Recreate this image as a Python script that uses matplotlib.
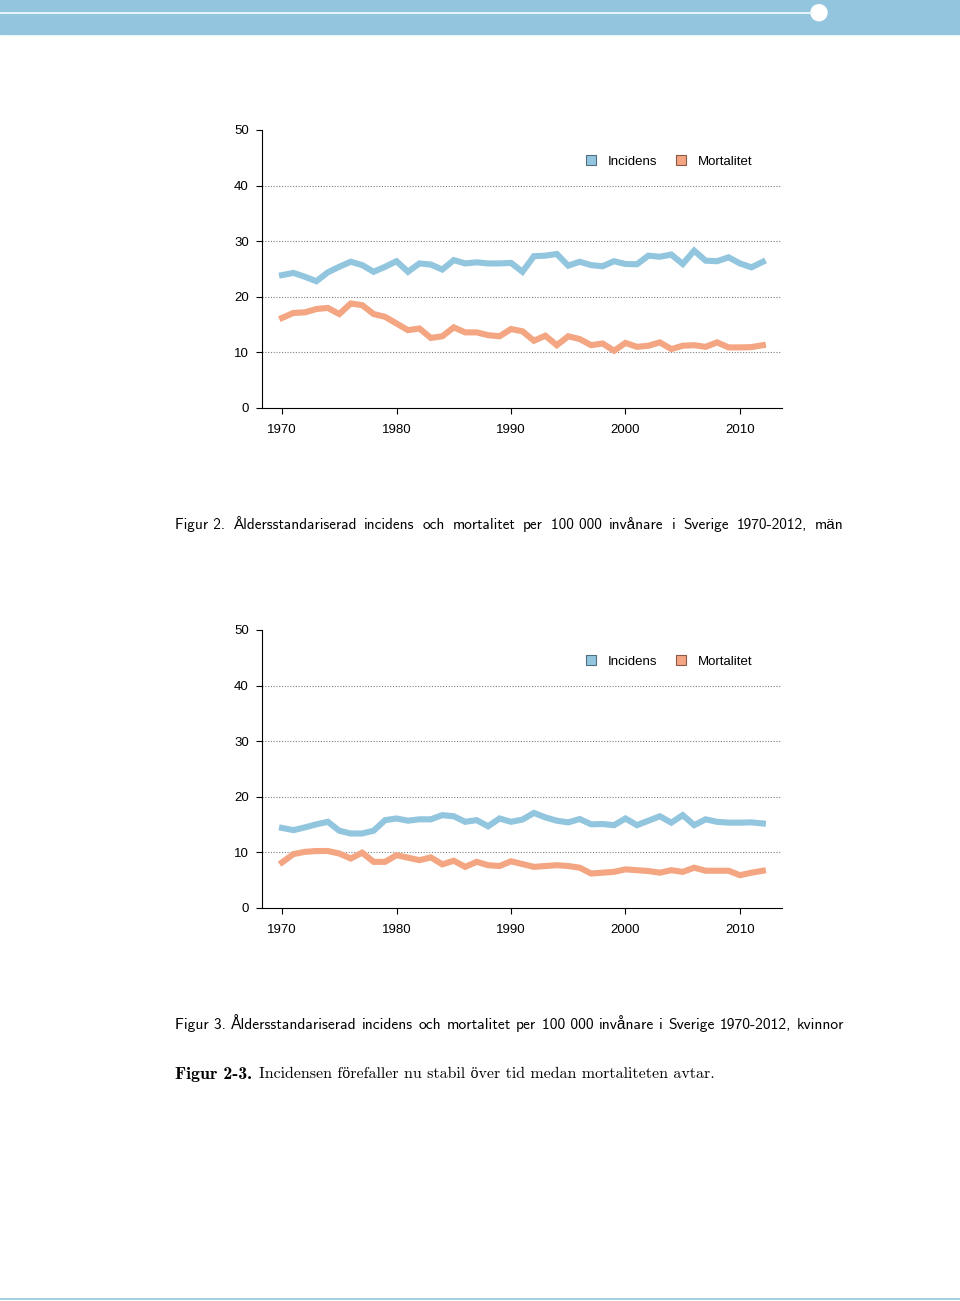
import matplotlib
matplotlib.use("Agg")
import matplotlib.pyplot as plt
from matplotlib.patches import Patch, Rectangle, Ellipse
from matplotlib.lines import Line2D

years = list(range(1970, 2013))

# Figur 2, män
men_incidens = [23.9, 24.3, 23.6, 22.8, 24.4, 25.4, 26.3, 25.7, 24.5, 25.4,
                26.4, 24.5, 26.0, 25.8, 24.9, 26.6, 26.0, 26.2, 26.0, 26.0,
                26.1, 24.5, 27.3, 27.4, 27.7, 25.6, 26.3, 25.7, 25.5, 26.4,
                25.9, 25.85, 27.4, 27.2, 27.6, 25.9, 28.3, 26.5, 26.4, 27.1,
                26.0, 25.3, 26.3]
men_mortalitet = [16.2, 17.1, 17.2, 17.8, 18.0, 16.9, 18.8, 18.5, 16.9, 16.4,
                  15.2, 14.0, 14.3, 12.6, 12.9, 14.5, 13.6, 13.6, 13.1, 12.9,
                  14.2, 13.8, 12.1, 13.0, 11.3, 12.9, 12.4, 11.3, 11.6, 10.3,
                  11.7, 11.0, 11.2, 11.8, 10.6, 11.2, 11.3, 11.0, 11.8, 10.9,
                  10.9, 10.95, 11.3]

# Figur 3, kvinnor
women_incidens = [14.4, 14.0, 14.5, 15.05, 15.5, 13.9, 13.4, 13.4, 13.9, 15.8,
                  16.1, 15.7, 15.95, 15.95, 16.7, 16.5, 15.5, 15.8, 14.7, 16.1,
                  15.5, 15.9, 17.1, 16.3, 15.7, 15.4, 16.0, 15.05, 15.1, 14.9,
                  16.1, 14.9, 15.7, 16.5, 15.35, 16.7, 14.9, 15.95, 15.5, 15.35,
                  15.35, 15.4, 15.2]
women_mortalitet = [8.2, 9.7, 10.1, 10.25, 10.25, 9.8, 8.9, 9.95, 8.3, 8.3,
                    9.5, 9.05, 8.6, 9.1, 7.85, 8.5, 7.4, 8.3, 7.7, 7.55,
                    8.4, 7.9, 7.4, 7.55, 7.7, 7.55, 7.25, 6.2, 6.35, 6.5,
                    6.95, 6.8, 6.65, 6.35, 6.8, 6.5, 7.25, 6.7, 6.7, 6.7,
                    5.9, 6.35, 6.7]

xticks = [1970, 1980, 1990, 2000, 2010]
yticks = [0, 10, 20, 30, 40, 50]
gridlines = [10, 20, 30, 40]

nb = "\u00a0"
caption2 = f"Figur{nb}2. Åldersstandariserad incidens och mortalitet per 100{nb}000 invånare i Sverige 1970-2012, män"
caption3 = f"Figur{nb}3. Åldersstandariserad incidens och mortalitet per 100{nb}000 invånare i Sverige 1970-2012, kvinnor"

blue = "#92c5de"
orange = "#f4a582"

W, H = 960, 1301
fig = plt.figure(figsize=(W / 100, H / 100), dpi=100)

# header bar
fig.add_artist(Rectangle((0, 1 - 34 / H), 1, 34 / H, transform=fig.transFigure,
                         color="#93c6de", zorder=0))
fig.add_artist(Line2D([0, 812 / W], [1 - 12.7 / H] * 2, transform=fig.transFigure,
                      color="#eef7fb", lw=1.3))
fig.add_artist(Ellipse((819 / W, 1 - 12.7 / H), 16 / W, 16 / H, transform=fig.transFigure,
                       color="white"))
fig.add_artist(Line2D([0, 1], [1 - 1298.5 / H] * 2, transform=fig.transFigure,
                      color="#93c6de", lw=1.2))


def draw(top, inc, mort):
    ax = fig.add_axes([262 / W, 1 - (top + 278) / H, 520 / W, 278 / H])
    ax.plot(years, inc, color=blue, lw=4.4, solid_joinstyle="miter")
    ax.plot(years, mort, color=orange, lw=4.4, solid_joinstyle="miter")
    for g in gridlines:
        ax.axhline(g, color="#808080", lw=0.8, ls=(0, (1, 1.5)), zorder=0)
    ax.set_xlim(1968.25, 2013.67)
    ax.set_ylim(0, 50)
    ax.set_xticks(xticks)
    ax.set_yticks(yticks)
    for s in ["top", "right"]:
        ax.spines[s].set_visible(False)
    ax.spines["left"].set_linewidth(0.8)
    ax.spines["bottom"].set_linewidth(0.8)
    ax.tick_params(length=4.5, width=0.8, labelsize=9.5, pad=5,
                   labelfontfamily="Liberation Sans")
    ax.tick_params(axis="x", pad=7)
    handles = [Patch(facecolor=blue, edgecolor="#4f6f80", lw=0.8, label="Incidens"),
               Patch(facecolor=orange, edgecolor="#8a5a48", lw=0.8, label="Mortalitet")]
    ax.legend(handles=handles, loc="center left", bbox_to_anchor=(0.60, 0.886),
              ncol=2, frameon=False, handlelength=0.75, handleheight=0.75,
              handletextpad=0.9, columnspacing=1.4,
              prop={"family": "Liberation Sans", "size": 9.5})
    return ax


draw(130, men_incidens, men_mortalitet)
draw(630, women_incidens, women_mortalitet)


# justified caption line, like the LaTeX original
def justify(text, x0, x1, y, **kw):
    words = text.split(" ")
    texts = [fig.text(0, 1 - y / H, w, va="center", ha="left", **kw) for w in words]
    r = fig.canvas.get_renderer()
    widths = [t.get_window_extent(r).width for t in texts]
    gap = (x1 - x0 - sum(widths)) / (len(words) - 1)
    x = x0
    for t, w in zip(texts, widths):
        t.set_x(x / W)
        x += w + gap


sans = ["cmss10", "Liberation Sans"]
justify(caption2, 175, 843, 525, family=sans, size=11)
justify(caption3, 175, 844, 1025, family=sans, size=11.2)

fig.text(175 / W, 1 - 1074 / H, "Figur 2-3.", family=["cmb10", "Liberation Serif"],
         size=12.8, va="center", ha="left")
fig.text(259 / W, 1 - 1074 / H,
         "Incidensen förefaller nu stabil över tid medan mortaliteten avtar.",
         family=["cmr10", "Liberation Serif"], size=11.5, va="center", ha="left")

fig.savefig("out.png", dpi=100)
